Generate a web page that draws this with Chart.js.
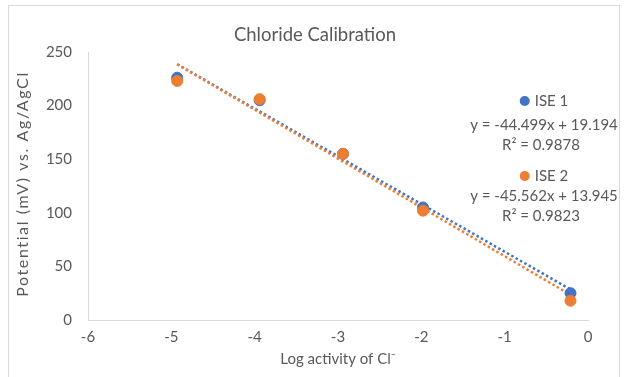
<!DOCTYPE html>
<html>
<head>
<meta charset="utf-8">
<script src="https://cdn.jsdelivr.net/npm/chart.js@4.4.1/dist/chart.umd.min.js"></script>
<style>
  html, body { margin: 0; padding: 0; background: #fff; }
  #wrap { position: relative; width: 624px; height: 377px; }
</style>
</head>
<body>
<div id="wrap"><canvas id="c" width="624" height="377"></canvas></div>
<script>
// Log activity of chloride for each standard
const logActivity = [-4.93, -3.94, -2.94, -1.98, -0.21];
// Measured potentials (mV vs. Ag/AgCl)
const ise1 = [226, 205, 155, 105, 25];
const ise2 = [223, 206, 155, 102, 18];
// Linear fits reported for each electrode
const fit1 = { slope: -44.499, intercept: 19.194, r2: '0.9878' };
const fit2 = { slope: -45.562, intercept: 13.945, r2: '0.9823' };
const xTicks = [-6, -5, -4, -3, -2, -1, 0];
const yTicks = [0, 50, 100, 150, 200, 250];

const BLUE = '#4472C4';
const ORANGE = '#ED7D31';
const TEXT = '#595959';
const FONT = 'Lato, "Open Sans", sans-serif';

const pts = ys => logActivity.map((x, i) => ({ x, y: ys[i] }));
const xMin = Math.min(...logActivity), xMax = Math.max(...logActivity);
const fitLine = f => [xMin, xMax].map(x => ({ x, y: f.slope * x + f.intercept }));

function fmtEq(f) {
  return 'y = ' + f.slope.toFixed(3) + 'x + ' + f.intercept.toFixed(3);
}

// Frame, titles and the trendline legend block
const decor = {
  id: 'decor',
  beforeDraw(chart) {
    const ctx = chart.ctx;
    ctx.save();
    ctx.fillStyle = '#fff';
    ctx.fillRect(0, 0, chart.width, chart.height);
    ctx.strokeStyle = '#d9d9d9';
    ctx.lineWidth = 1;
    ctx.strokeRect(8.5, 5.5, 611, 400);
    ctx.restore();
  },
  afterDraw(chart) {
    const ctx = chart.ctx;
    const area = chart.chartArea;
    ctx.save();
    ctx.fillStyle = TEXT;
    ctx.textAlign = 'center';
    ctx.textBaseline = 'middle';
    ctx.font = '18.5px ' + FONT;
    ctx.fillText('Chloride Calibration', 315, 35);

    // vertical axis title, slightly tracked
    ctx.save();
    ctx.translate(23, (area.top + area.bottom) / 2 - 2);
    ctx.rotate(-Math.PI / 2);
    ctx.font = '16px ' + FONT;
    ctx.letterSpacing = '1.6px';
    ctx.fillText('Potential (mV) vs. Ag/AgCl', 0, 0);
    ctx.restore();

    const cx = 544;
    const entries = [
      { name: 'ISE 1', color: BLUE, fit: fit1, y: 101, gap: 24 },
      { name: 'ISE 2', color: ORANGE, fit: fit2, y: 176, gap: 20 }
    ];
    ctx.font = '15px ' + FONT;
    entries.forEach(e => {
      const w = ctx.measureText(e.name).width;
      const left = cx - (15 + w) / 2;
      ctx.fillStyle = e.color;
      ctx.beginPath();
      ctx.arc(left + 5, e.y, 5, 0, Math.PI * 2);
      ctx.fill();
      ctx.fillStyle = TEXT;
      ctx.textAlign = 'left';
      ctx.fillText(e.name, left + 15, e.y);
      ctx.textAlign = 'center';
      ctx.fillText(fmtEq(e.fit), cx, e.y + e.gap);
      ctx.fillText('R\u00B2 = ' + e.fit.r2, cx - 3, e.y + e.gap + 20);
    });
    ctx.restore();
  }
};

new Chart(document.getElementById('c'), {
  type: 'scatter',
  data: {
    datasets: [
      { label: 'Linear (ISE 1)', data: fitLine(fit1), showLine: true, borderColor: BLUE,
        borderWidth: 2.5, borderDash: [2.5, 2.5], pointRadius: 0, order: 4 },
      { label: 'Linear (ISE 2)', data: fitLine(fit2), showLine: true, borderColor: ORANGE,
        borderWidth: 2.5, borderDash: [2.5, 2.5], pointRadius: 0, order: 3 },
      { label: 'ISE 1', data: pts(ise1), backgroundColor: BLUE, borderColor: BLUE,
        pointRadius: 5.5, pointHoverRadius: 5.5, order: 2 },
      { label: 'ISE 2', data: pts(ise2), backgroundColor: ORANGE, borderColor: ORANGE,
        pointRadius: 5.5, pointHoverRadius: 5.5, order: 1 }
    ]
  },
  options: {
    responsive: false,
    animation: false,
    layout: { padding: { left: 10, right: 36, top: 52, bottom: 5 } },
    plugins: { legend: { display: false }, title: { display: false }, tooltip: { enabled: false } },
    scales: {
      x: {
        type: 'linear', min: -6, max: 0,
        afterBuildTicks: s => { s.ticks = xTicks.map(v => ({ value: v })); },
        grid: { display: false, drawTicks: false },
        border: { display: true, color: '#d9d9d9', width: 1 },
        ticks: { color: TEXT, font: { family: FONT, size: 15 }, padding: 8 },
        title: { display: true, text: 'Log activity of Cl\u207B', color: TEXT,
                 font: { family: FONT, size: 15 }, padding: { top: 2 } },
        afterFit: s => { s.height = 52; }
      },
      y: {
        type: 'linear', min: 0, max: 250,
        afterBuildTicks: s => { s.ticks = yTicks.map(v => ({ value: v })); },
        grid: { display: false, drawTicks: false },
        border: { display: true, color: '#d9d9d9', width: 1 },
        ticks: { color: TEXT, font: { family: FONT, size: 15 }, padding: 16 },
        afterFit: s => { s.width = 78; }
      }
    }
  },
  plugins: [decor]
});
</script>
</body>
</html>
